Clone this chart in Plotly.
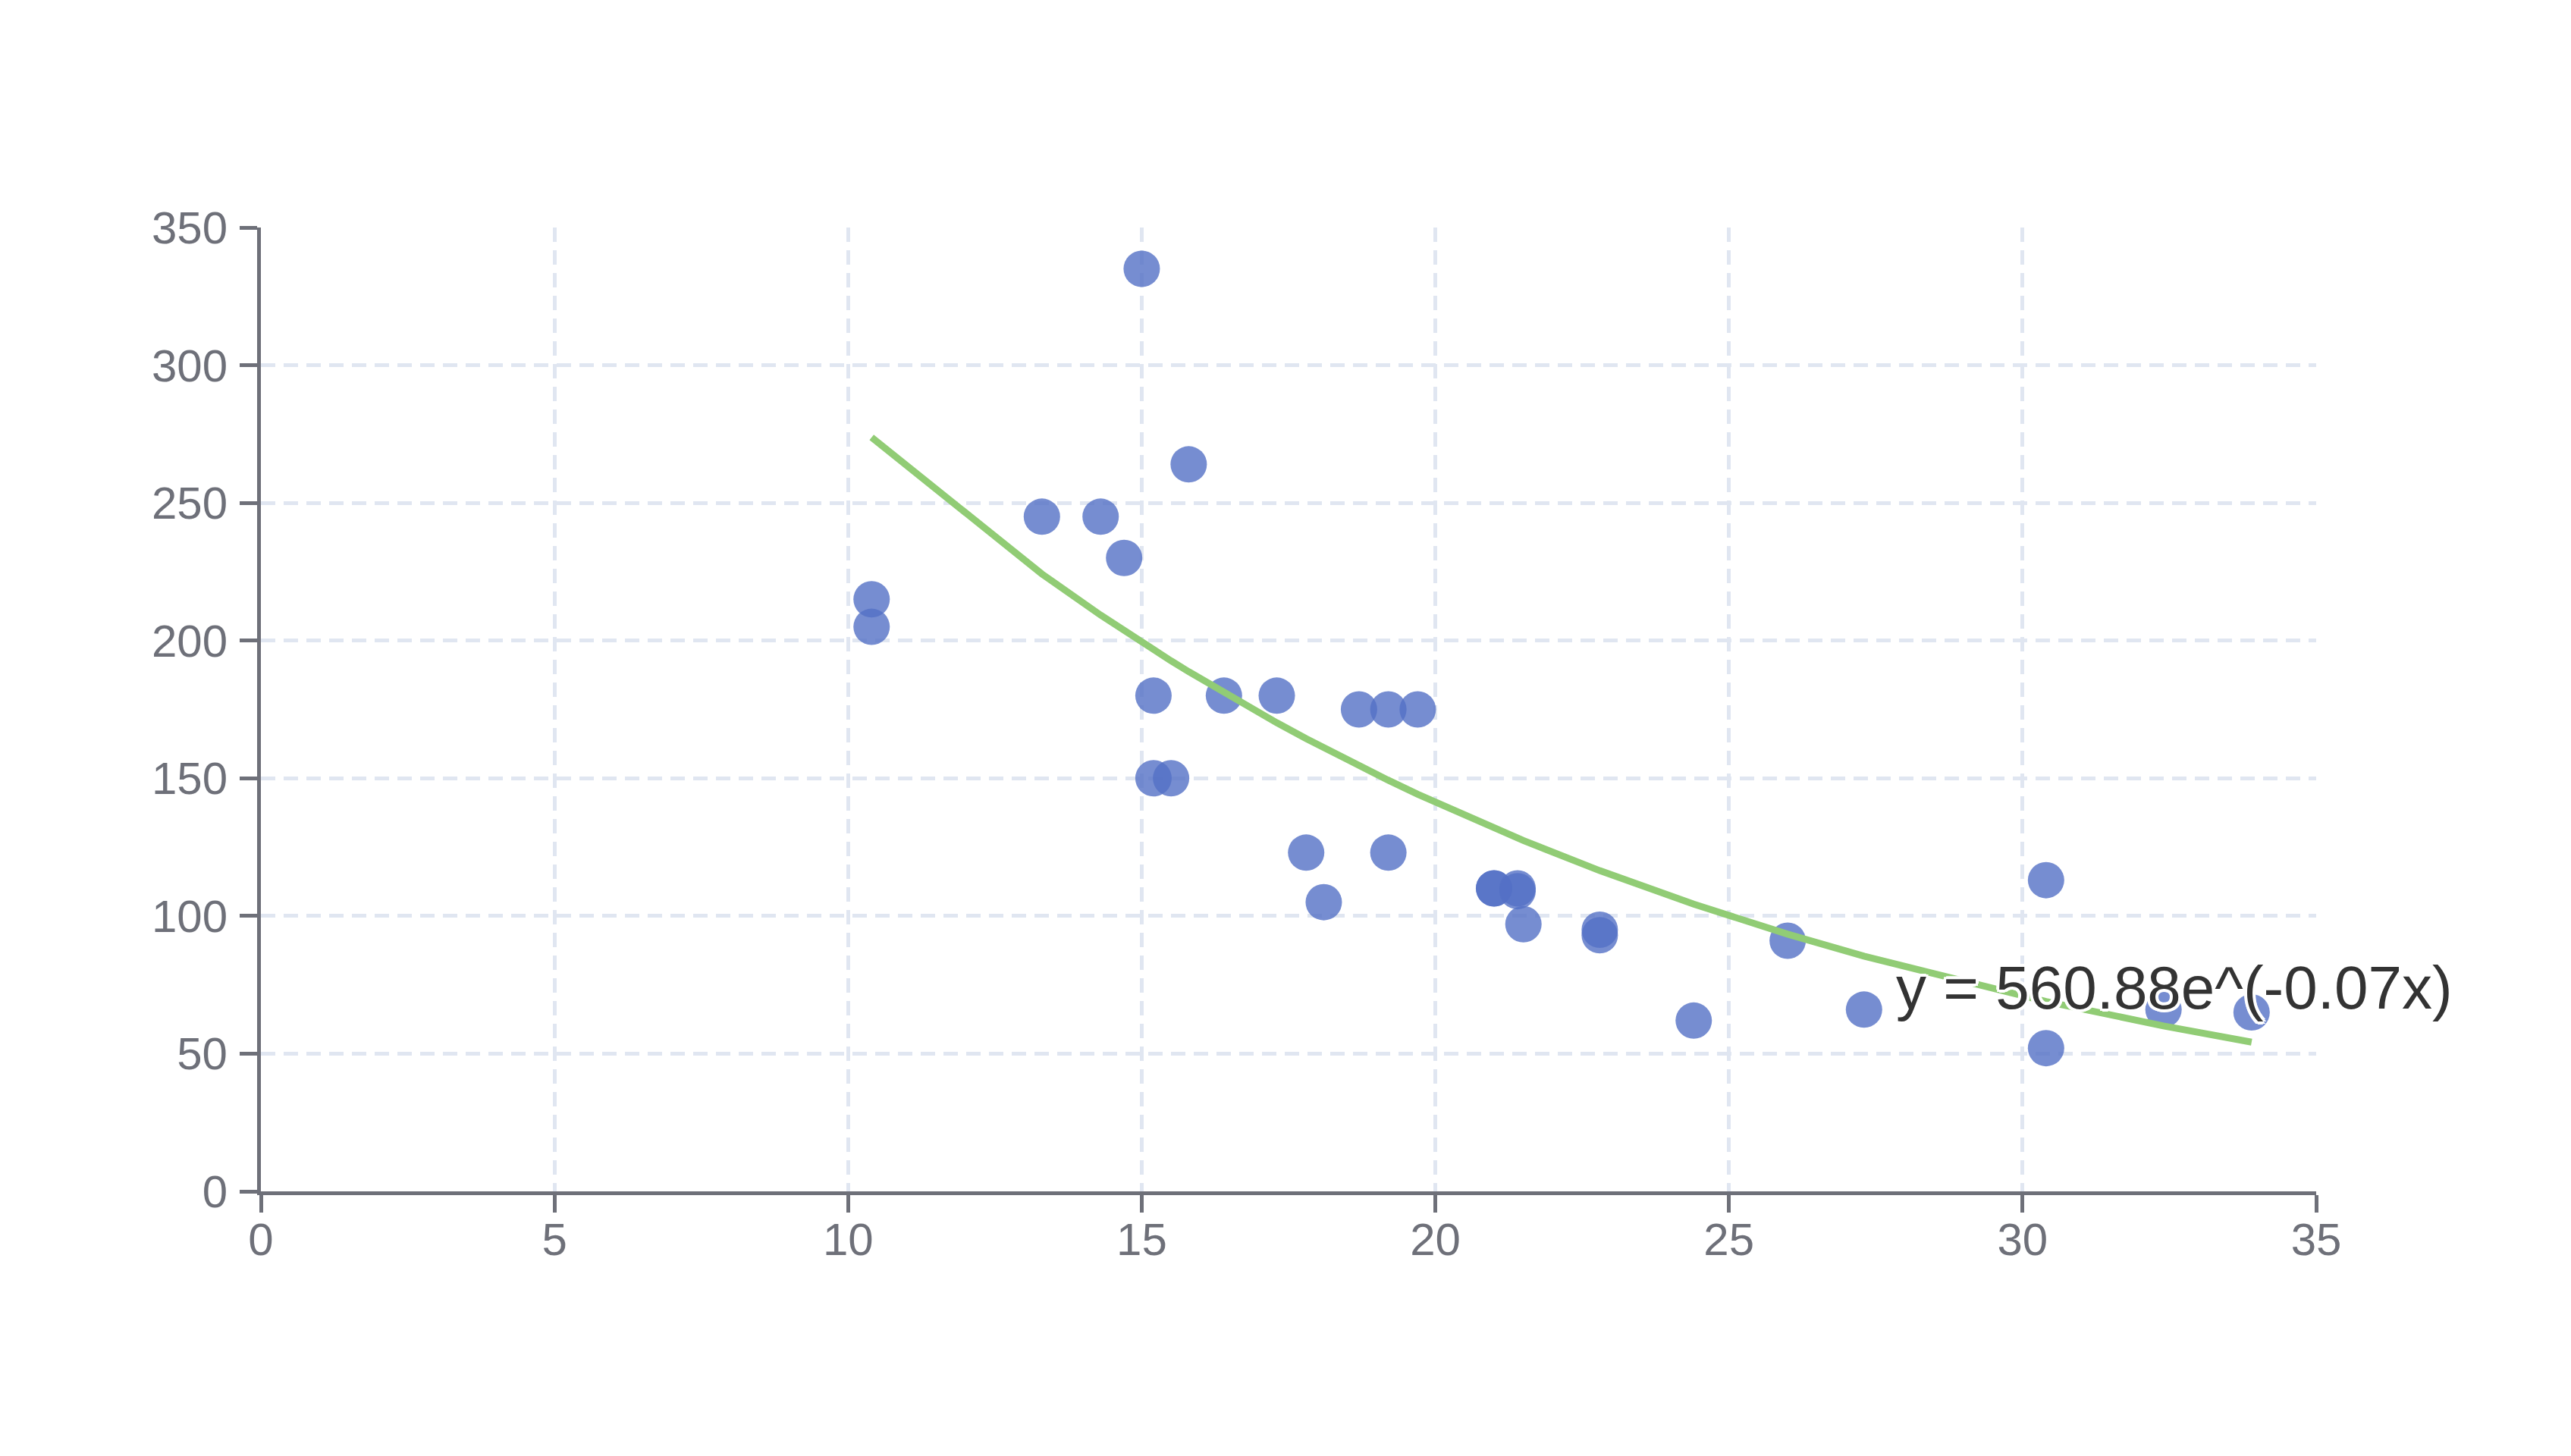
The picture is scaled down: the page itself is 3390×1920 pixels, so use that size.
import numpy as np
import plotly.graph_objects as go

# mpg (x) vs hp (y)
mpg = [21, 21, 22.8, 21.4, 18.7, 18.1, 14.3, 24.4, 22.8, 19.2, 17.8, 16.4, 17.3, 15.2, 10.4, 10.4,
       14.7, 32.4, 30.4, 33.9, 21.5, 15.5, 15.2, 13.3, 19.2, 27.3, 26, 30.4, 15.8, 19.7, 15, 21.4]
hp = [110, 110, 93, 110, 175, 105, 245, 62, 95, 123, 123, 180, 180, 180, 205, 215,
      230, 66, 52, 65, 97, 150, 150, 245, 175, 66, 91, 113, 264, 175, 335, 109]

x_ticks = [0, 5, 10, 15, 20, 25, 30, 35]
y_ticks = [0, 50, 100, 150, 200, 250, 300, 350]

BLUE = "#5470c6"
GREEN = "#91cc75"
AXIS = "#6E7079"
GRID = "#E0E6F1"
FONT = "Liberation Sans, Arial, sans-serif"


def exp_regression(xs, ys):
    """weighted exponential fit y = a*e^(b*x), same sums as ecStat"""
    xs = np.asarray(xs, float)
    ys = np.asarray(ys, float)
    s_y = ys.sum()
    s_xy = (xs * ys).sum()
    s_xxy = (xs * xs * ys).sum()
    s_ylny = (ys * np.log(ys)).sum()
    s_xylny = (xs * ys * np.log(ys)).sum()
    den = s_y * s_xxy - s_xy * s_xy
    a = np.exp((s_xxy * s_ylny - s_xy * s_xylny) / den)
    b = (s_y * s_xylny - s_xy * s_ylny) / den
    order = np.argsort(xs, kind="stable")
    return a, b, xs[order], a * np.exp(b * xs[order])


coef, index, fit_x, fit_y = exp_regression(mpg, hp)
expression = f"y = {round(coef, 2)}e^({round(index, 2)}x)"

fig = go.Figure()

fig.add_trace(go.Scatter(
    x=mpg, y=hp, mode="markers", name="scatter",
    marker=dict(color=BLUE, size=48, opacity=0.8, line=dict(width=0)),
))

fig.add_trace(go.Scatter(
    x=fit_x, y=fit_y, mode="lines", name="line",
    line=dict(color=GREEN, width=9),
))

fig.add_annotation(
    x=fit_x[-1], y=fit_y[-1], text=expression, showarrow=False,
    xanchor="left", yanchor="middle", xshift=-471, yshift=72,
    font=dict(family=FONT, size=80, color="#333333",
              shadow="4px 0 0 #fff, -4px 0 0 #fff, 0 4px 0 #fff, 0 -4px 0 #fff, "
                     "3px 3px 0 #fff, -3px -3px 0 #fff, 3px -3px 0 #fff, -3px 3px 0 #fff"),
)

axis_common = dict(
    showline=True, linecolor=AXIS, linewidth=5,
    ticks="outside", ticklen=23, tickwidth=5, tickcolor=AXIS,
    showgrid=True, gridcolor=GRID, gridwidth=5, griddash="19px,11px",
    zeroline=False, tickfont=dict(family=FONT, size=60, color=AXIS),
    mirror=False, layer="above traces",
)

fig.update_xaxes(range=[0, 35], tickvals=x_ticks, ticklabelstandoff=-16, **axis_common)
fig.update_yaxes(range=[0, 350], tickvals=y_ticks, ticklabelstandoff=4, **axis_common)

fig.update_layout(
    width=3390, height=1920,
    margin=dict(l=336, r=344, t=292, b=357),
    paper_bgcolor="white", plot_bgcolor="white",
    showlegend=False,
    font=dict(family=FONT),
)

fig.write_html("out.html")
